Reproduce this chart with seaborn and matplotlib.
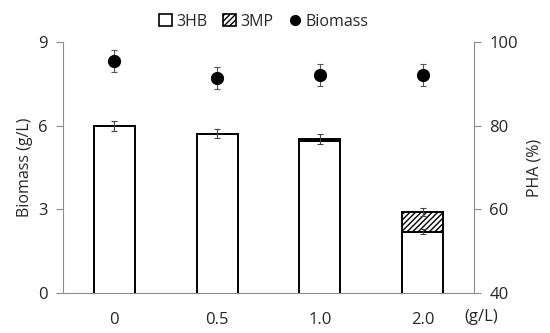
import matplotlib
matplotlib.use("Agg")
import matplotlib.pyplot as plt
from matplotlib.patches import Patch
from matplotlib.lines import Line2D
import numpy as np
import seaborn as sns

# datos
concentraciones = ["0", "0.5", "1.0", "2.0"]
pha_3hb = [80.0, 78.1, 76.4, 54.7]
pha_3mp = [0.0, 0.0, 0.4, 4.7]
err_total = [1.2, 1.1, 1.2, 1.0]
err_3hb = [0.0, 0.0, 0.0, 0.6]
biomasa = [8.32, 7.72, 7.81, 7.81]
err_biomasa = [0.40, 0.39, 0.40, 0.40]

sns.set_style("white")
plt.rcParams['font.family'] = ['Open Sans', 'DejaVu Sans']

gris = "#8c8c8c"
fig = plt.figure(figsize=(5.5, 3.33), dpi=100)
ax = fig.add_axes([0.1145, 0.12, 0.7475, 0.754])
ax2 = ax.twinx()

pos = np.arange(len(concentraciones))
total = np.array(pha_3hb) + np.array(pha_3mp)

# barras de PHA en el eje derecho
sns.barplot(x=concentraciones, y=pha_3hb, ax=ax2, color="white", edgecolor="black",
            linewidth=1.4, width=0.4, errorbar=None, saturation=1)
sns.barplot(x=concentraciones, y=pha_3mp, ax=ax2, color="white", edgecolor="black",
            linewidth=1.4, width=0.4, errorbar=None, saturation=1, bottom=pha_3hb,
            hatch="//////")
ax2.errorbar(pos, total, yerr=err_total, fmt="none", ecolor="#444444",
             elinewidth=0.8, capsize=2, capthick=0.8)
ax2.errorbar(pos[3:], np.array(pha_3hb)[3:], yerr=np.array(err_3hb)[3:], fmt="none",
             ecolor="#444444", elinewidth=0.8, capsize=2, capthick=0.8)

# biomasa en el eje izquierdo
ax.errorbar(pos, biomasa, yerr=err_biomasa, fmt="o", color="black", markersize=8.5,
            ecolor="#555555", elinewidth=0.8, capsize=2, capthick=0.8)

ax.set_xlim(-0.5, 3.5)
ax.set_ylim(0, 9)
ax.set_yticks([0, 3, 6, 9])
ax2.set_ylim(40, 100)
ax2.set_yticks([40, 60, 80, 100])

ax.set_ylabel("Biomass (g/L)", fontsize=11.5, labelpad=4)
ax2.set_ylabel("PHA (%)", fontsize=11.5, labelpad=6)

for a in (ax, ax2):
    for s in a.spines.values():
        s.set_visible(False)
    a.tick_params(axis="y", length=5, width=0.8, color=gris, labelsize=12, pad=6)
    a.tick_params(axis="x", length=0, labelsize=12, pad=14)
ax.spines["left"].set_visible(True)
ax.spines["left"].set_color(gris)
ax.spines["bottom"].set_visible(True)
ax.spines["bottom"].set_color(gris)
ax2.spines["right"].set_visible(True)
ax2.spines["right"].set_color(gris)
ax.tick_params(axis="y", left=True)
ax2.tick_params(axis="y", right=True)

fig.text(0.845, 0.048, "(g/L)", fontsize=12, ha="left", va="center")

handles = [
    Patch(facecolor="white", edgecolor="black", linewidth=1.2, label="3HB"),
    Patch(facecolor="white", edgecolor="black", linewidth=1.2, hatch="//////", label="3MP"),
    Line2D([], [], marker="o", color="black", linestyle="none", markersize=7, label="Biomass"),
]
fig.legend(handles=handles, loc="center", bbox_to_anchor=(0.48, 0.935), ncol=3,
           frameon=False, fontsize=11.5, handlelength=0.8, handleheight=0.8,
           handletextpad=0.25, columnspacing=1.0)

fig.savefig("out.png", dpi=100)
